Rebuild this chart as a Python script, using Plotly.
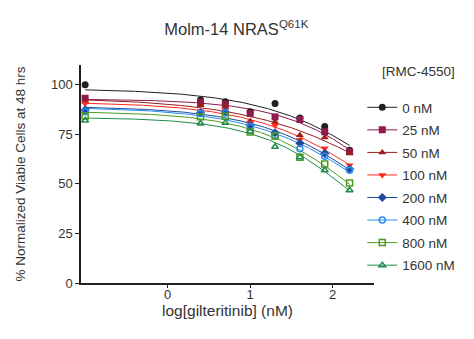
import numpy as np
import plotly.graph_objects as go

# gilteritinib concentrations (nM); first point is vehicle plotted at 0.1 nM
gilt_nM = [0.1, 2.5, 5, 10, 20, 40, 80, 160]

series_names = ["0 nM", "25 nM", "50 nM", "100 nM", "200 nM", "400 nM", "800 nM", "1600 nM"]

v_0 = [100.0, 92.3, 91.4, 86.4, 90.6, 83.3, 79.0, 67.0]
v_25 = [93.2, 91.2, 90.3, 85.5, 83.8, 82.5, 76.3, 66.2]
v_50 = [91.5, 89.7, 88.9, 81.8, 81.3, 74.6, 73.4, 65.5]
v_100 = [90.6, 86.6, 87.3, 81.0, 79.6, 72.3, 68.0, 59.4]
v_200 = [87.3, 86.0, 86.4, 79.6, 75.8, 70.5, 65.4, 57.5]
v_400 = [86.4, 85.5, 85.8, 78.8, 74.6, 67.8, 64.0, 56.9]
v_800 = [84.3, 83.9, 84.2, 76.2, 74.0, 63.5, 60.0, 50.5]
v_1600 = [82.0, 80.5, 80.8, 76.5, 68.7, 63.5, 56.9, 46.8]

values = [v_0, v_25, v_50, v_100, v_200, v_400, v_800, v_1600]

colors = ["#231f20", "#8e1b4e", "#9c1c1c", "#ff2b1c", "#1f4a9a", "#2a8cf0", "#4c9a1e", "#1f8a4c"]
symbols = ["circle", "square", "triangle-up", "triangle-down", "diamond",
           "circle-open", "square-open", "triangle-up-open"]

y_ticks = [0, 25, 50, 75, 100]
x_ticks = [0, 1, 2]

logx = np.log10(np.array(gilt_nM, dtype=float))


def fit_curve(x, y):
    # least-squares fit of y = top / (1 + 10^((x - c) * h)) via grid search
    y = np.asarray(y, dtype=float)
    cs = np.linspace(1.5, 6.0, 451)
    hs = np.linspace(0.15, 2.5, 236)
    C, H = np.meshgrid(cs, hs, indexing="ij")
    f = 1.0 / (1.0 + 10.0 ** ((x[None, None, :] - C[..., None]) * H[..., None]))
    top = (f * y).sum(-1) / (f * f).sum(-1)
    sse = ((top[..., None] * f - y) ** 2).sum(-1)
    i, j = np.unravel_index(np.argmin(sse), sse.shape)
    return top[i, j], cs[i], hs[j]


xs = np.linspace(logx.min(), logx.max(), 200)

fig = go.Figure()
for name, vals, col, sym in zip(series_names, values, colors, symbols):
    top, c, h = fit_curve(logx, vals)
    yfit = top / (1.0 + 10.0 ** ((xs - c) * h))
    fig.add_trace(go.Scatter(x=xs, y=yfit, mode="lines", line=dict(color=col, width=1),
                             showlegend=False, hoverinfo="skip"))
for name, vals, col, sym in zip(series_names, values, colors, symbols):
    px, py = [], []
    for a, b in zip(logx, vals):
        px += [a, None]
        py += [b, None]
    msize = 7 if "open" not in sym else 6
    fig.add_trace(go.Scatter(
        x=px, y=py, mode="lines+markers", name=name, connectgaps=False,
        line=dict(color=col, width=1),
        marker=dict(symbol=sym, color=col, size=msize,
                    line=dict(color=col, width=1.5 if "open" in sym else 0)),
    ))

# the page body adds an 8px offset, so the figure is sized to fit the window
fig.update_layout(
    width=466, height=331,
    margin=dict(l=73, r=100, t=57, b=56, autoexpand=False),
    paper_bgcolor="white", plot_bgcolor="white",
    font=dict(family="Liberation Sans, Arial, sans-serif", color="#333333", size=12),
    title=dict(text="Molm-14 NRAS<sup>Q61K</sup>", x=0.49, xanchor="center", y=0.935,
               yanchor="middle", font=dict(size=16.5, color="#333333")),
    showlegend=True,
    legend=dict(x=0.96, xanchor="left", y=0.876, yanchor="top",
                bgcolor="rgba(0,0,0,0)", font=dict(size=13.5, color="#333333"),
                tracegroupgap=2, itemwidth=30),
    annotations=[dict(text="[RMC-4550]", xref="paper", yref="paper", x=1.02, y=0.968,
                      xanchor="left", yanchor="middle", showarrow=False,
                      font=dict(size=13.5, color="#333333"))],
)
fig.update_xaxes(range=[-1.05, 2.5], tickvals=x_ticks, ticktext=[str(t) for t in x_ticks],
                 showgrid=False, zeroline=False, showline=True, linecolor="#231f20",
                 linewidth=1.5, ticks="outside", ticklen=3, tickcolor="#231f20",
                 tickfont=dict(size=13, color="#333333"), automargin=False,
                 ticklabelstandoff=-4,
                 title=dict(text="log[gilteritinib] (nM)", font=dict(size=15.5, color="#333333"),
                            standoff=2))
fig.update_yaxes(range=[0, 110], tickvals=y_ticks, showgrid=False, zeroline=False,
                 showline=True, linecolor="#231f20", linewidth=1.5, ticks="outside",
                 ticklen=4, tickcolor="#231f20", tickfont=dict(size=13, color="#333333"),
                 automargin=False,
                 title=dict(text="% Normalized Viable Cells at 48 hrs",
                            font=dict(size=13.5, color="#333333"), standoff=22))

# Give each legend item its own group so tracegroupgap spaces them
for i, tr in enumerate(fig.data):
    tr.legendgroup = "g%d" % i

fig.write_html("out.html")
